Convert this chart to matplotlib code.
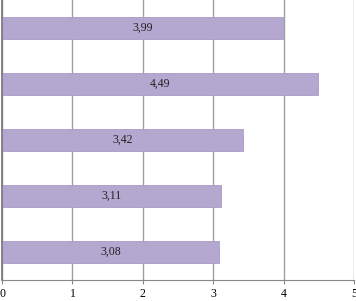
import numpy as np
import matplotlib.pyplot as plt

values = [3.99, 4.49, 3.42, 3.11, 3.08]
labels = ["3,99", "4,49", "3,42", "3,11", "3,08"]
xticks = [0, 1, 2, 3, 4, 5]

plt.rcParams['font.family'] = ['Liberation Serif', 'DejaVu Serif']

fig = plt.figure(figsize=(3.56, 3.01), dpi=100)
ax = fig.add_axes([2 / 356, 21 / 301, 352 / 356, 280 / 301])

y = np.arange(len(values))
ax.barh(y, values, height=0.4, color='#b4a7d0', edgecolor='#a89bc6', linewidth=0.6, zorder=2)
for yi, v, lab in zip(y, values, labels):
    ax.text(v / 2, yi, lab, ha='center', va='center', fontsize=8.5, color='#222222', zorder=3)

ax.set_xlim(0, 5)
ax.set_ylim(len(values) - 0.5, -0.5)
ax.set_xticks(xticks)
ax.set_xticklabels([str(t) for t in xticks], fontsize=8.5)
ax.set_yticks([])
ax.grid(axis='x', color='#a0a0a0', linewidth=1.0, zorder=1)
for s in ['top', 'right']:
    ax.spines[s].set_visible(False)
ax.spines['left'].set_color('#777777')
ax.spines['left'].set_linewidth(1.2)
ax.spines['bottom'].set_color('#888888')
ax.tick_params(axis='x', length=3, color='#888888', pad=3)

fig.savefig('out.png', dpi=100)
